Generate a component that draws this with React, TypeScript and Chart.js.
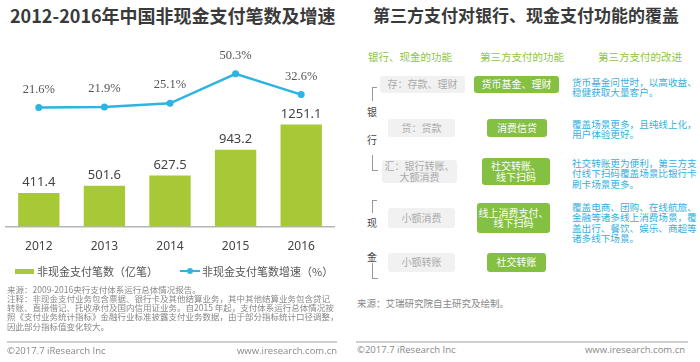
import React, { useEffect, useRef } from "react";
import { Chart, registerables } from "chart.js";

Chart.register(...registerables);

// ---- chart data ----
const years = ["2012", "2013", "2014", "2015", "2016"];
const counts = [411.4, 501.6, 627.5, 943.2, 1251.1];
const growth = [21.6, 21.9, 25.1, 50.3, 32.6];
const countLabel = "非现金支付笔数（亿笔）";
const growthLabel = "非现金支付笔数增速（%）";

// ---- text content ----
const leftTitle = "2012-2016年中国非现金支付笔数及增速";
const rightTitle = "第三方支付对银行、现金支付功能的覆盖";
const leftNotes = [
  "来源：2009-2016央行支付体系运行总体情况报告。",
  "注释：非现金支付业务包含票据、银行卡及其他结算业务，其中其他结算业务包含贷记",
  "转账、直接借记、托收承付及国内信用证业务。自2015 年起，支付体系运行总体情况按",
  "照《支付业务统计指标》金融行业标准披露支付业务数据，由于部分指标统计口径调整，",
  "因此部分指标值变化较大。",
];
const rightSource = "来源：艾瑞研究院自主研究及绘制。";
const footerLeft = "©2017.7 iResearch Inc";
const footerRight = "www.iresearch.com.cn";
const headers = ["银行、现金的功能", "第三方支付的功能", "第三方支付的改进"];
const bankFuncs = [["存：存款、理财"], ["贷：贷款"], ["汇：银行转账、", "大额消费"], ["小额消费"], ["小额转账"]];
const thirdFuncs = [["货币基金、理财"], ["消费信贷"], ["社交转账、", "线下扫码"], ["线上消费支付、", "线下扫码"], ["社交转账"]];
const improvements = [
  ["货币基金问世时，以高收益、", "稳健获取大量客户。"],
  ["覆盖场景更多，且纯线上化，", "用户体验更好。"],
  ["社交转账更为便利，第三方支", "付线下扫码覆盖场景比银行卡", "刷卡场景更多。"],
  ["覆盖电商、团购、在线航旅、", "金融等诸多线上消费场景，覆", "盖出行、餐饮、娱乐、商超等", "诸多线下场景。"],
  [],
];
const groupChars = [["银", "行"], ["现", "金"]];

// ---- layout (positions only) ----
const grayBoxes = [
  { x: 380, y: 76, w: 85, h: 17 },
  { x: 388, y: 119, w: 67, h: 18 },
  { x: 382, y: 160, w: 75, h: 23 },
  { x: 388, y: 208, w: 67, h: 20 },
  { x: 388, y: 253, w: 67, h: 19 },
];
const greenBoxes = [
  { x: 474, y: 76, w: 85, h: 17 },
  { x: 487, y: 119, w: 60, h: 18 },
  { x: 482, y: 158, w: 68, h: 27 },
  { x: 477, y: 203, w: 73, h: 30 },
  { x: 487, y: 253, w: 59, h: 19 },
];
const improveTops = [82, 124, 163, 207, 0];
const headerX = [368, 480, 598];
const charPos = [[112, 140], [223, 257]];

const BAR = "#a6c935";
const LINE = "#2db4e2";
const GREEN = "#84c041";
const BLUE = "#35afdf";
const CJK = '"Noto Sans CJK SC", "Noto Sans", sans-serif';

const labelPlugin = {
  id: "valueLabels",
  afterDatasetsDraw(chart: any) {
    const ctx = chart.ctx;
    chart.data.datasets.forEach((ds: any, di: number) => {
      const meta = chart.getDatasetMeta(di);
      meta.data.forEach((el: any, i: number) => {
        const v = ds.data[i];
        ctx.save();
        ctx.textAlign = "center";
        ctx.textBaseline = "bottom";
        if (ds.type === "bar") {
          ctx.font = '13px "Noto Sans", sans-serif';
          ctx.fillStyle = "#444";
          ctx.fillText(v.toFixed(1), el.x, el.y - 4);
        } else {
          ctx.font = '12.5px "Liberation Serif", serif';
          ctx.fillStyle = "#555";
          ctx.fillText(v.toFixed(1) + "%", el.x, el.y - 12);
        }
        ctx.restore();
      });
    });
  },
};

function ComboChart() {
  const ref = useRef<HTMLCanvasElement>(null);
  useEffect(() => {
    if (!ref.current) return;
    const chart = new Chart(ref.current, {
      type: "bar",
      data: {
        labels: years,
        datasets: [
          {
            type: "line",
            label: growthLabel,
            data: growth,
            yAxisID: "y1",
            borderColor: LINE,
            backgroundColor: LINE,
            borderWidth: 2.5,
            pointRadius: 3.5,
            pointBackgroundColor: LINE,
            pointBorderWidth: 0,
            tension: 0,
            order: 0,
          } as any,
          {
            type: "bar",
            label: countLabel,
            data: counts,
            yAxisID: "y",
            backgroundColor: BAR,
            barPercentage: 0.63,
            categoryPercentage: 1,
            order: 1,
          } as any,
        ],
      },
      options: {
        animation: false,
        responsive: false,
        maintainAspectRatio: false,
        layout: { padding: { left: 6, right: 6, top: 39, bottom: 0 } },
        plugins: { legend: { display: false }, tooltip: { enabled: false } },
        scales: {
          x: {
            grid: { display: false, drawTicks: false },
            border: { display: true, color: "#b5b5b5", width: 1.5 },
            ticks: { color: "#444", font: { size: 12, family: '"Noto Sans", sans-serif' }, padding: 12.5 },
          },
          y: { display: false, min: 0, max: 2300 },
          y1: { display: false, min: -80, max: 80 },
        },
      },
      plugins: [labelPlugin],
    });
    return () => chart.destroy();
  }, []);
  return <canvas ref={ref} width={340} height={266} style={{ position: "absolute", left: 0, top: 0, width: 340, height: 266 }} />;
}

const abs = (x: number, y: number, extra: any = {}) => ({ position: "absolute" as const, left: x, top: y, ...extra });

export default function App() {
  return (
    <div style={{ position: "absolute", left: 0, top: 0, width: 700, height: 362, background: "#fff", overflow: "hidden", fontFamily: CJK }}>
      {/* left panel */}
      <div style={abs(10, 3, { fontSize: 18, fontWeight: 700, color: "#3a3a3a", whiteSpace: "nowrap", lineHeight: "24px" })}>{leftTitle}</div>
      <ComboChart />
      {/* legend */}
      <div style={abs(15, 269, { width: 19, height: 5, background: BAR })} />
      <div style={abs(37, 263, { fontSize: 11, color: "#555", lineHeight: "16px", whiteSpace: "nowrap" })}>{countLabel}</div>
      <div style={abs(180, 270, { width: 20, height: 2, background: LINE })} />
      <div style={abs(187, 268, { width: 6, height: 6, borderRadius: 3, background: LINE })} />
      <div style={abs(202, 263, { fontSize: 11, color: "#555", lineHeight: "16px", whiteSpace: "nowrap" })}>{growthLabel}</div>
      {leftNotes.map((t, i) => (
        <div key={i} style={abs(7, 284.5 + i * 9.25, { fontSize: 8.5, color: "#888", lineHeight: "9.25px", whiteSpace: "nowrap" })}>{t}</div>
      ))}
      <div style={abs(7, 341, { width: 330, height: 1.5, background: "#cfcfcf" })} />
      <div style={abs(7, 345, { fontSize: 9.5, color: "#888", lineHeight: "12px", fontFamily: '"Open Sans", sans-serif', whiteSpace: "nowrap" })}>{footerLeft}</div>
      <div style={abs(237, 345, { width: 100, textAlign: "right", fontSize: 9.5, color: "#888", lineHeight: "12px", fontFamily: '"Open Sans", sans-serif', whiteSpace: "nowrap" })}>{footerRight}</div>

      {/* right panel */}
      <div style={abs(373, 4, { fontSize: 17, fontWeight: 700, color: "#3a3a3a", whiteSpace: "nowrap", lineHeight: "22px" })}>{rightTitle}</div>
      {headers.map((h, i) => (
        <div key={i} style={abs(headerX[i], 50, { fontSize: 10.5, color: "#8cc63e", lineHeight: "14px", whiteSpace: "nowrap" })}>{h}</div>
      ))}
      {/* brackets */}
      <div style={abs(372, 87, { width: 4, height: 13, borderLeft: "1px solid #999", borderTop: "1px solid #999" })} />
      <div style={abs(372, 155, { width: 5, height: 15, borderLeft: "1px solid #999", borderBottom: "1px solid #999" })} />
      <div style={abs(372, 200, { width: 4, height: 12, borderLeft: "1px solid #999", borderTop: "1px solid #999" })} />
      <div style={abs(372, 263, { width: 5, height: 15, borderLeft: "1px solid #999", borderBottom: "1px solid #999" })} />
      {groupChars.map((g, gi) =>
        g.map((c, ci) => (
          <div key={gi + "-" + ci} style={abs(367, charPos[gi][ci] - 6, { width: 10, textAlign: "center", fontSize: 10, color: "#444", lineHeight: "12px" })}>{c}</div>
        ))
      )}
      {bankFuncs.map((lines, i) => (
        <div key={i} style={abs(grayBoxes[i].x, grayBoxes[i].y, { width: grayBoxes[i].w, height: grayBoxes[i].h, background: "#f1f1f1", borderRadius: 3, color: "#aaa", fontSize: 10, lineHeight: "10.5px", display: "flex", flexDirection: "column", alignItems: "center", justifyContent: "center", whiteSpace: "nowrap" })}>
          {lines.map((l, j) => <div key={j}>{l}</div>)}
        </div>
      ))}
      {thirdFuncs.map((lines, i) => (
        <div key={i} style={abs(greenBoxes[i].x, greenBoxes[i].y, { width: greenBoxes[i].w, height: greenBoxes[i].h, background: GREEN, borderRadius: 3, color: "#fff", fontSize: 10, lineHeight: "10.5px", display: "flex", flexDirection: "column", alignItems: "center", justifyContent: "center", whiteSpace: "nowrap" })}>
          {lines.map((l, j) => <div key={j}>{l}</div>)}
        </div>
      ))}
      {improvements.map((lines, i) =>
        lines.length ? (
          <div key={i} style={abs(572, improveTops[i] - 5.2, { fontSize: 9.6, color: BLUE, lineHeight: "10.4px", whiteSpace: "nowrap" })}>
            {lines.map((l, j) => <div key={j}>{l}</div>)}
          </div>
        ) : null
      )}
      <div style={abs(357, 297, { fontSize: 9.5, color: "#888", lineHeight: "12px", whiteSpace: "nowrap" })}>{rightSource}</div>
      <div style={abs(356, 341, { width: 332, height: 1.5, background: "#cfcfcf" })} />
      <div style={abs(357, 344, { fontSize: 9.5, color: "#888", lineHeight: "12px", fontFamily: '"Open Sans", sans-serif', whiteSpace: "nowrap" })}>{footerLeft}</div>
      <div style={abs(585, 344, { width: 100, textAlign: "right", fontSize: 9.5, color: "#888", lineHeight: "12px", fontFamily: '"Open Sans", sans-serif', whiteSpace: "nowrap" })}>{footerRight}</div>
    </div>
  );
}
